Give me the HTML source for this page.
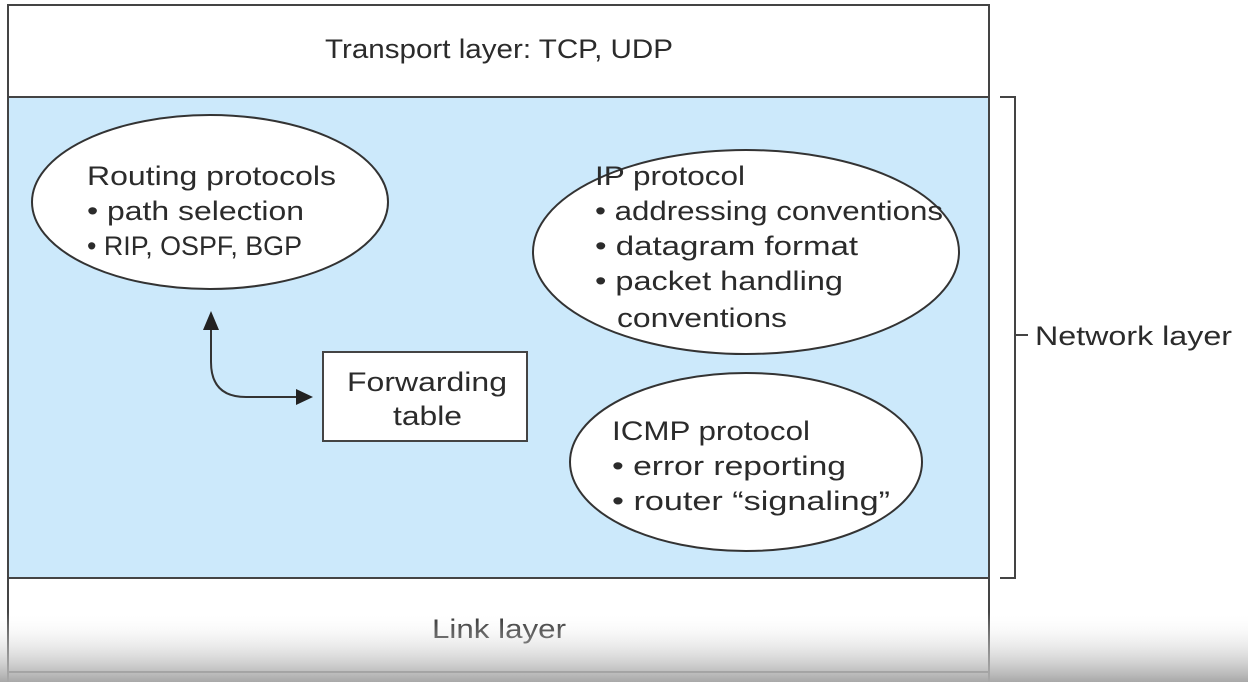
<!DOCTYPE html>
<html><head><style>
html,body{margin:0;padding:0;background:#fff;}
body{width:1248px;height:682px;overflow:hidden;position:relative;}
svg{position:absolute;left:0;top:0;}
text{font-family:"Liberation Sans","DejaVu Sans",sans-serif;font-size:27px;fill:#2b2b2b;}
</style></head><body>
<svg width="1248" height="682" viewBox="0 0 1248 682">
<defs>
<linearGradient id="g" x1="0" y1="0" x2="0" y2="1">
<stop offset="0" stop-color="#ffffff" stop-opacity="0"/>
<stop offset="1" stop-color="#a8a8a8" stop-opacity="1"/>
</linearGradient>
</defs>
<rect x="8" y="5" width="981" height="92" fill="#fff" stroke="#444" stroke-width="2"/>
<rect x="8" y="97" width="981" height="481" fill="#cce9fb" stroke="#444" stroke-width="2"/>
<rect x="8" y="578" width="981" height="94" fill="#fff" stroke="#444" stroke-width="2"/>
<line x1="8" y1="672" x2="8" y2="682" stroke="#444" stroke-width="2"/>
<line x1="989" y1="672" x2="989" y2="682" stroke="#444" stroke-width="2"/>
<text x="325" y="58" textLength="348" lengthAdjust="spacingAndGlyphs">Transport layer: TCP, UDP</text>
<text x="432" y="638" textLength="134" lengthAdjust="spacingAndGlyphs">Link layer</text>
<path d="M1000,97 H1015 V578 H1000 M1015,335 H1028" fill="none" stroke="#444" stroke-width="2"/>
<text x="1035" y="345" textLength="197" lengthAdjust="spacingAndGlyphs">Network layer</text>
<ellipse cx="210" cy="202" rx="178" ry="87" fill="#fff" stroke="#333" stroke-width="2"/>
<text x="87" y="185" textLength="249" lengthAdjust="spacingAndGlyphs">Routing protocols</text>
<text x="87" y="220" textLength="217" lengthAdjust="spacingAndGlyphs">• path selection</text>
<text x="87" y="255" textLength="215" lengthAdjust="spacingAndGlyphs">• RIP, OSPF, BGP</text>
<ellipse cx="746" cy="252" rx="213" ry="102" fill="#fff" stroke="#333" stroke-width="2"/>
<text x="595" y="185" textLength="150" lengthAdjust="spacingAndGlyphs">IP protocol</text>
<text x="595" y="220" textLength="348" lengthAdjust="spacingAndGlyphs">• addressing conventions</text>
<text x="595" y="255" textLength="263" lengthAdjust="spacingAndGlyphs">• datagram format</text>
<text x="595" y="290" textLength="248" lengthAdjust="spacingAndGlyphs">• packet handling</text>
<text x="617" y="327" textLength="170" lengthAdjust="spacingAndGlyphs">conventions</text>
<ellipse cx="746" cy="462" rx="176" ry="89" fill="#fff" stroke="#333" stroke-width="2"/>
<text x="612" y="440" textLength="198" lengthAdjust="spacingAndGlyphs">ICMP protocol</text>
<text x="612" y="475" textLength="234" lengthAdjust="spacingAndGlyphs">• error reporting</text>
<text x="612" y="510" textLength="278" lengthAdjust="spacingAndGlyphs">• router “signaling”</text>
<rect x="323" y="352" width="204" height="89" fill="#fff" stroke="#444" stroke-width="2"/>
<text x="347" y="391" textLength="160" lengthAdjust="spacingAndGlyphs">Forwarding</text>
<text x="393" y="425" textLength="69" lengthAdjust="spacingAndGlyphs">table</text>
<path d="M211,328 V362 Q211,397 246,397 H298" fill="none" stroke="#333" stroke-width="2"/>
<path d="M203,330 L211,311 L219,330 Z" fill="#222"/>
<path d="M296,389 L313,397 L296,405 Z" fill="#222"/>
<rect x="0" y="612" width="1248" height="70" fill="url(#g)"/>
</svg>
</body></html>
